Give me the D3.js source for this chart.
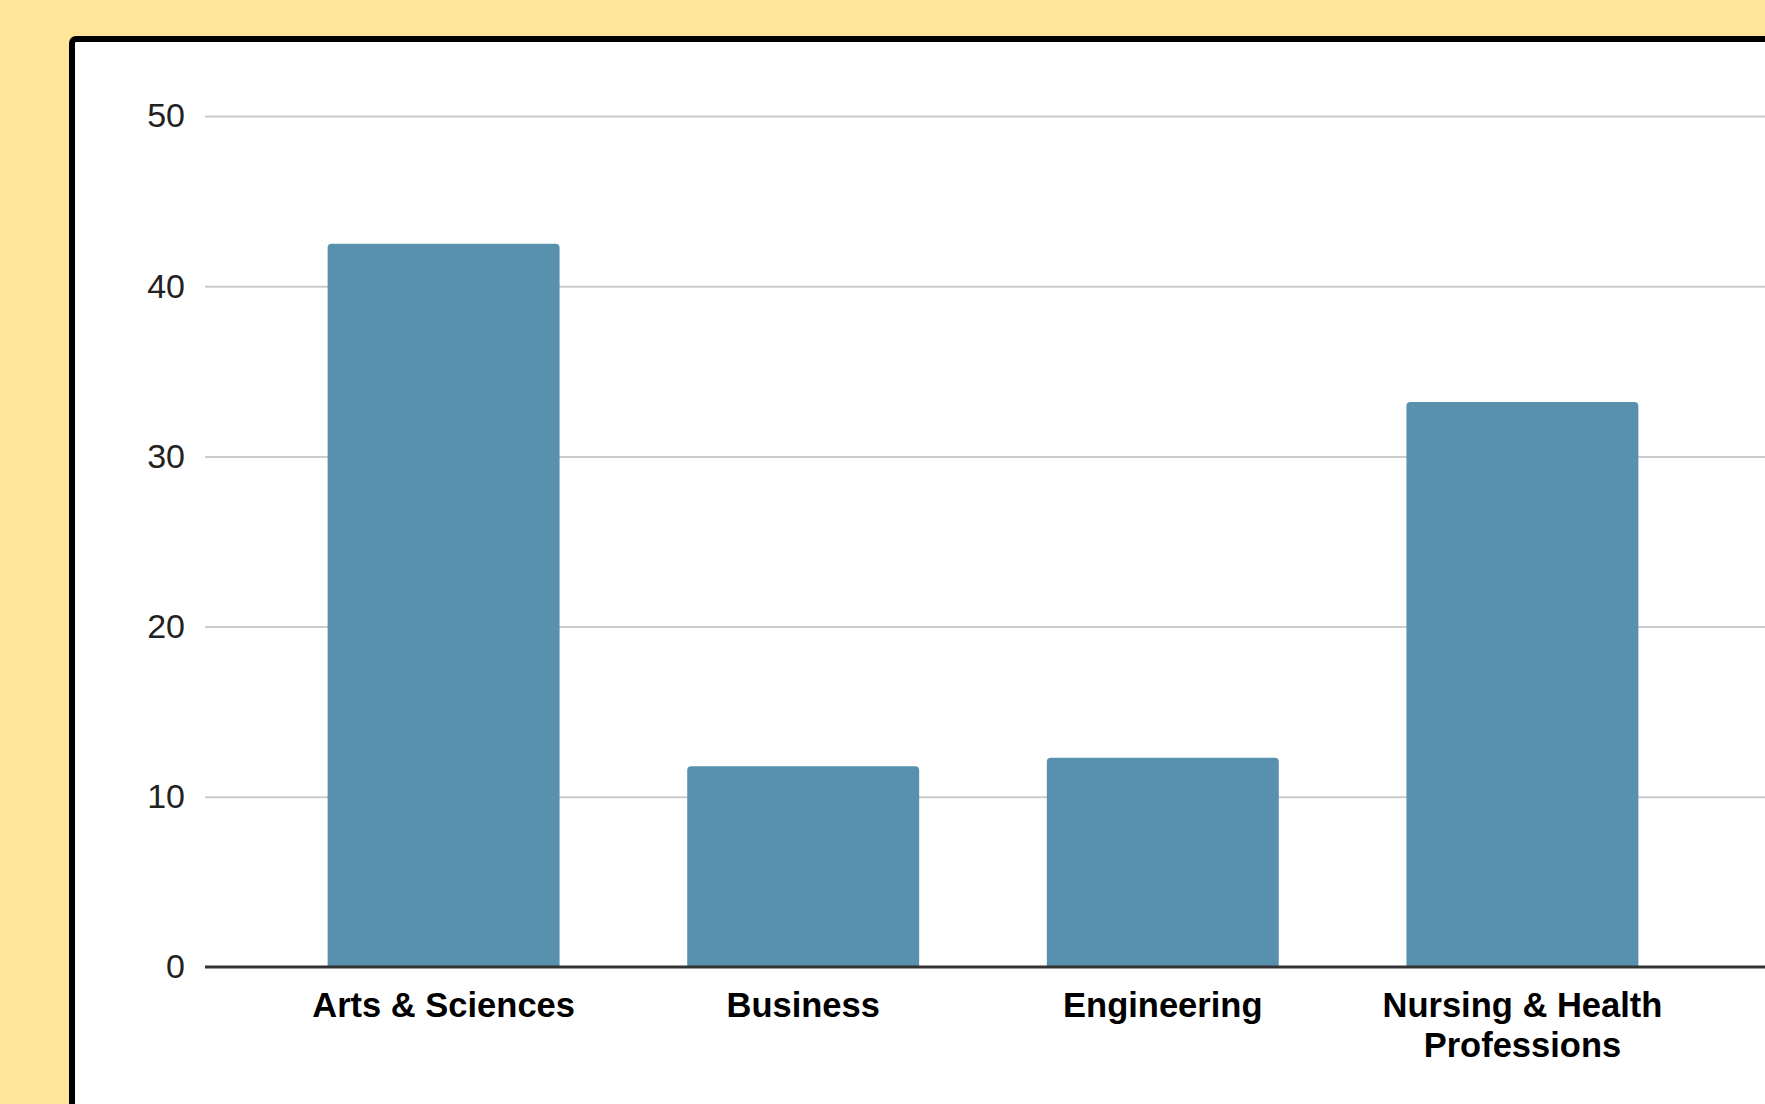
<!DOCTYPE html>
<html>
<head>
<meta charset="utf-8">
<script src="https://cdn.jsdelivr.net/npm/d3@7"></script>
<style>
  html, body { margin: 0; padding: 0; background: #ffe599; }
  svg { display: block; }
</style>
</head>
<body>
<div id="chart"></div>
<script>
// enrollment share by college
const categories = ["Arts & Sciences", "Business", "Engineering", "Nursing & Health Professions"];
const values = [42.5, 11.8, 12.3, 33.2];
const yTicks = [0, 10, 20, 30, 40, 50];

const width = 1765, height = 1104;
const plot = { left: 205, right: 1761, top: 116, bottom: 967 };

const svg = d3.select("#chart")
  .append("svg")
  .attr("width", width)
  .attr("height", height);

// white card with a thick black frame running off the page
svg.append("rect")
  .attr("x", 72)
  .attr("y", 39)
  .attr("width", width)
  .attr("height", height)
  .attr("rx", 4)
  .attr("fill", "#fff")
  .attr("stroke", "#000")
  .attr("stroke-width", 6);

const x = d3.scaleBand()
  .domain(categories)
  .range([plot.left, plot.right])
  .paddingInner(0.355)
  .paddingOuter(0.341);

const y = d3.scaleLinear()
  .domain([0, 50])
  .range([plot.bottom, plot.top]);

// horizontal gridlines + tick labels
const yAxis = svg.append("g")
  .attr("transform", `translate(${plot.left},0)`)
  .call(d3.axisLeft(y).tickValues(yTicks).tickSize(-(width - plot.left)).tickPadding(20));

yAxis.select(".domain").remove();
yAxis.selectAll(".tick line")
  .attr("stroke", d => d === 0 ? "none" : "#cccccc")
  .attr("stroke-width", 2);
yAxis.selectAll(".tick text")
  .attr("fill", "#222")
  .attr("font-family", "Arial, 'Liberation Sans', sans-serif")
  .attr("font-size", 34);

// bars with slightly rounded tops
const r = 4;
function barPath(d, i) {
  const x0 = x(categories[i]), x1 = x0 + x.bandwidth();
  const y0 = y(0), y1 = y(d);
  return `M${x0},${y0}V${y1 + r}Q${x0},${y1} ${x0 + r},${y1}H${x1 - r}Q${x1},${y1} ${x1},${y1 + r}V${y0}Z`;
}

svg.append("g")
  .selectAll("path")
  .data(values)
  .enter()
  .append("path")
  .attr("d", barPath)
  .attr("fill", "#5891ae");

// baseline
svg.append("line")
  .attr("x1", plot.left)
  .attr("x2", width)
  .attr("y1", y(0))
  .attr("y2", y(0))
  .attr("stroke", "#333")
  .attr("stroke-width", 3);

// category labels, wrapped to the band step
const xLabels = svg.append("g")
  .attr("font-family", "Arial, 'Liberation Sans', sans-serif")
  .attr("font-size", 34.5)
  .attr("font-weight", "bold")
  .attr("fill", "#000")
  .attr("text-anchor", "middle");

xLabels.selectAll("text")
  .data(categories)
  .enter()
  .append("text")
  .attr("x", d => x(d) + x.bandwidth() / 2)
  .attr("y", 1017)
  .each(function (d) {
    const text = d3.select(this);
    const words = d.split(" ");
    const maxW = x.step();
    let line = [];
    let tspan = text.append("tspan").attr("x", text.attr("x")).attr("dy", 0);
    words.forEach(w => {
      line.push(w);
      tspan.text(line.join(" "));
      if (tspan.node().getComputedTextLength() > maxW && line.length > 1) {
        line.pop();
        tspan.text(line.join(" "));
        line = [w];
        tspan = text.append("tspan").attr("x", text.attr("x")).attr("dy", 40).text(w);
      }
    });
  });
</script>
</body>
</html>
